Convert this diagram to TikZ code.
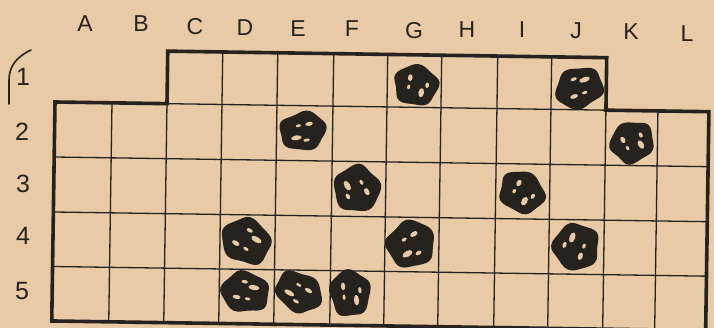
\documentclass[tikz,border=0pt]{standalone}
\usepackage{fontspec}
\setmainfont{Liberation Sans}
\definecolor{paper}{RGB}{232,202,166}
\definecolor{ink}{RGB}{38,34,30}
\tikzset{
  thinline/.style={ink, line width=1.3pt},
  thickline/.style={ink, line width=3.6pt, line join=miter},
  collabel/.style={text=ink, font=\fontsize{23}{23}\selectfont, inner sep=0pt},
  rowlabel/.style={text=ink, font=\fontsize{25}{25}\selectfont, inner sep=0pt},
  hole/.style={fill=paper}
}
\newcommand{\inkblob}[5]{%
  \begin{scope}[shift={(#1,#2)}, rotate=#3, xscale=#4, yscale=#5]
    \fill[ink] plot[smooth cycle, tension=0.7] coordinates {(1.0,0) (0.70,0.56) (0.315,0.990) (-0.30,0.86) (-0.83,0.60) (-0.92,0.05) (-0.86,-0.62) (-0.27,-0.84) (0.32,-0.97) (0.76,-0.53)};
    \fill[hole] (-0.32,0.28) ellipse (0.22 and 0.12);
    \fill[hole] (0.30,-0.30) ellipse (0.16 and 0.10);
    \fill[hole] (0.08,0.48) ellipse (0.13 and 0.08);
    \fill[hole] (-0.15,-0.30) ellipse (0.11 and 0.07);
  \end{scope}}
\begin{document}
\begin{tikzpicture}[x=1pt, y=-1pt]
\fill[paper] (0,0) rectangle (714,328);
\useasboundingbox (0,0) rectangle (714,328);
% grid
\begin{scope}[shift={(55,102)}, rotate=-0.85]
  \foreach \x in {57,112,167,222,278,332,386,442,496,551,603}
    \draw[thinline] (\x,0) -- (\x,219);
  \foreach \x in {167,222,278,332,386,442,496}
    \draw[thinline] (\x,-52.5) -- (\x,0);
  \draw[thinline] (112,0) -- (551,0);
  \foreach \y in {55,110,164.5}
    \draw[thinline] (0,\y) -- (654,\y);
  \draw[thickline] (0,0) -- (112,0) -- (112,-52.5) -- (551,-52.5) -- (551,0) -- (654,0) -- (654,219) -- (0,219) -- cycle;
\end{scope}
% column labels
\node[collabel] (cA) at (85,24) {A};
\node[collabel] (cB) at (141,24) {B};
\node[collabel] (cC) at (195,27) {C};
\node[collabel] (cD) at (245,28) {D};
\node[collabel] (cE) at (298,29) {E};
\node[collabel] (cF) at (352,29) {F};
\node[collabel] (cG) at (414,31) {G};
\node[collabel] (cH) at (467,30) {H};
\node[collabel] (cI) at (522,30) {I};
\node[collabel] (cJ) at (576,31) {J};
\node[collabel] (cK) at (631,32) {K};
\node[collabel] (cL) at (687,34) {L};
% row labels
\node[rowlabel] (r1) at (23,77) {1};
\node[rowlabel] (r2) at (22,132) {2};
\node[rowlabel] (r3) at (23,184) {3};
\node[rowlabel] (r4) at (23,236) {4};
\node[rowlabel] (r5) at (22,291) {5};
% bracket mark
\draw[ink, line width=1.6pt, line cap=round] (31,50) .. controls (16,57) and (9,67) .. (9,80) -- (9,104);
% ink blobs
\inkblob{416}{85}{80}{21}{23}
\inkblob{579}{88}{200}{25}{21}
\inkblob{303}{131}{10}{24}{20}
\inkblob{632}{142}{120}{21}{23}
\inkblob{357}{189}{300}{24}{24}
\inkblob{522}{192}{60}{21}{24}
\inkblob{246}{241}{150}{26}{23}
\inkblob{411}{244}{30}{25}{24}
\inkblob{576}{247}{250}{24}{24}
\inkblob{245}{292}{170}{25}{21}
\inkblob{299}{292}{330}{25}{20}
\inkblob{350}{293}{95}{24}{21}
\end{tikzpicture}
\end{document}
